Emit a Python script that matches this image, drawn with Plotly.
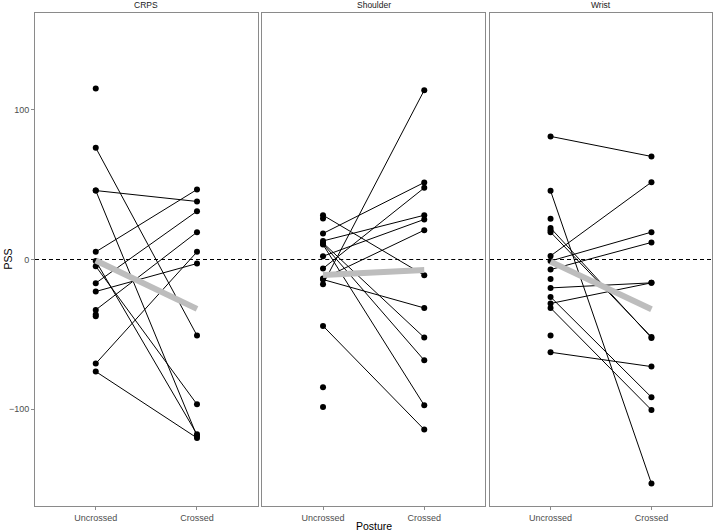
import numpy as np
import plotly.graph_objects as go

postures = ["Uncrossed", "Crossed"]
groups = ["CRPS", "Shoulder", "Wrist"]

crps_uncrossed = [114.4, 74.7, 46.1, 46.1, 5.1, -1.0, -4.5, -15.8, -21.4, -33.7, -36.8, -37.9, -69.6, -74.9]
crps_crossed = [None, -50.8, 38.8, -118.0, 46.8, -116.9, -96.8, 32.3, -2.7, 18.3, None, None, 5.1, -119.3]

shoulder_uncrossed = [29.6, 27.4, 17.4, 12.4, 11.1, 10.5, 10.0, 2.2, -6.0, -12.7, -13.4, -16.5, -44.4, -85.4, -98.6]
shoulder_crossed = [-10.5, None, 51.5, 29.6, -52.2, -67.4, -97.5, 26.8, 47.9, 19.6, -32.4, 113.2, -113.7, None, None]

wrist_uncrossed = [82.3, 45.9, 27.2, 21.1, 19.6, 18.3, 2.4, -1.0, -6.7, -13.0, -19.0, -25.0, -29.4, -32.4, -50.8, -62.0]
wrist_crossed = [68.9, -149.8, None, -52.4, None, -51.8, 51.7, 18.3, 11.4, None, -15.6, -92.1, -15.6, -100.6, None, -71.6]

y_ticks = [-100, 0, 100]

data = [
    (groups[0], crps_uncrossed, crps_crossed),
    (groups[1], shoulder_uncrossed, shoulder_crossed),
    (groups[2], wrist_uncrossed, wrist_crossed),
]

domains = [[0.0, 0.329], [0.3357, 0.6647], [0.6721, 1.0]]
YR = [-164.8, 164.8]
BORDER = "#8a8a8a"
FONT = "Liberation Sans, Arial, Helvetica, sans-serif"

fig = go.Figure()
layout = {}
annotations = []
shapes = []

for i, (name, unc, cro) in enumerate(data):
    n = "" if i == 0 else str(i + 1)
    xa, ya = "x" + n, "y" + n

    # pair lines
    lx, ly = [], []
    for u, c in zip(unc, cro):
        if u is not None and c is not None:
            lx += [postures[0], postures[1], None]
            ly += [u, c, None]
    fig.add_trace(go.Scatter(x=lx, y=ly, mode="lines", xaxis=xa, yaxis=ya,
                             line=dict(color="black", width=1), showlegend=False,
                             hoverinfo="skip"))
    # points
    px, py = [], []
    for u in unc:
        if u is not None:
            px.append(postures[0]); py.append(u)
    for c in cro:
        if c is not None:
            px.append(postures[1]); py.append(c)
    fig.add_trace(go.Scatter(x=px, y=py, mode="markers", xaxis=xa, yaxis=ya,
                             marker=dict(color="black", size=6), showlegend=False))
    # mean line
    mu = np.mean([v for v in unc if v is not None])
    mc = np.mean([v for v in cro if v is not None])
    fig.add_trace(go.Scatter(x=postures, y=[mu, mc], mode="lines", xaxis=xa, yaxis=ya,
                             line=dict(color="#bdbdbd", width=6), showlegend=False))

    layout["xaxis" + n] = dict(
        domain=domains[i], anchor=ya, type="category",
        categoryorder="array", categoryarray=postures,
        range=[-0.6, 1.6], showline=True, mirror=True, linecolor=BORDER,
        linewidth=1, ticks="outside", ticklen=3, tickcolor=BORDER,
        tickfont=dict(size=9, color="#4d4d4d", family=FONT),
        showgrid=False, zeroline=False, automargin=False,
    )
    ycfg = dict(
        anchor=xa, range=YR, showline=True, mirror=True, linecolor=BORDER,
        linewidth=1, showgrid=False, zeroline=False, tickvals=y_ticks,
        automargin=False,
    )
    if i == 0:
        ycfg.update(ticks="outside", ticklen=3, tickcolor=BORDER,
                    tickfont=dict(size=9, color="#4d4d4d", family=FONT))
    else:
        ycfg.update(ticks="", showticklabels=False, matches="y")
    layout["yaxis" + n] = ycfg

    shapes.append(dict(type="line", xref=xa + " domain", x0=0, x1=1,
                       yref=ya, y0=0, y1=0, layer="below",
                       line=dict(color="black", width=1, dash="4px,3px")))
    annotations.append(dict(text=name, xref=xa + " domain", x=0.5, yref="paper", y=1,
                            yanchor="middle", yshift=8, showarrow=False,
                            font=dict(size=8.5, color="#1a1a1a", family=FONT)))

annotations.append(dict(text="PSS", xref="paper", x=0, xshift=-28, yref="paper", y=0.5,
                        textangle=-90, showarrow=False, xanchor="center", yanchor="middle",
                        font=dict(size=10.5, color="black", family=FONT)))
annotations.append(dict(text="Posture", xref="paper", x=0.5, yref="paper", y=0, yshift=-20,
                        showarrow=False, xanchor="center", yanchor="middle",
                        font=dict(size=10.5, color="black", family=FONT)))

fig.update_layout(
    width=713, height=532,
    margin=dict(l=35, r=1, t=13, b=26),
    plot_bgcolor="white", paper_bgcolor="white",
    annotations=annotations, shapes=shapes,
    font=dict(family=FONT),
    **layout,
)

fig.write_html("out.html", config={"displayModeBar": False},
               post_script="document.body.style.margin='0';document.body.style.overflow='hidden';")
